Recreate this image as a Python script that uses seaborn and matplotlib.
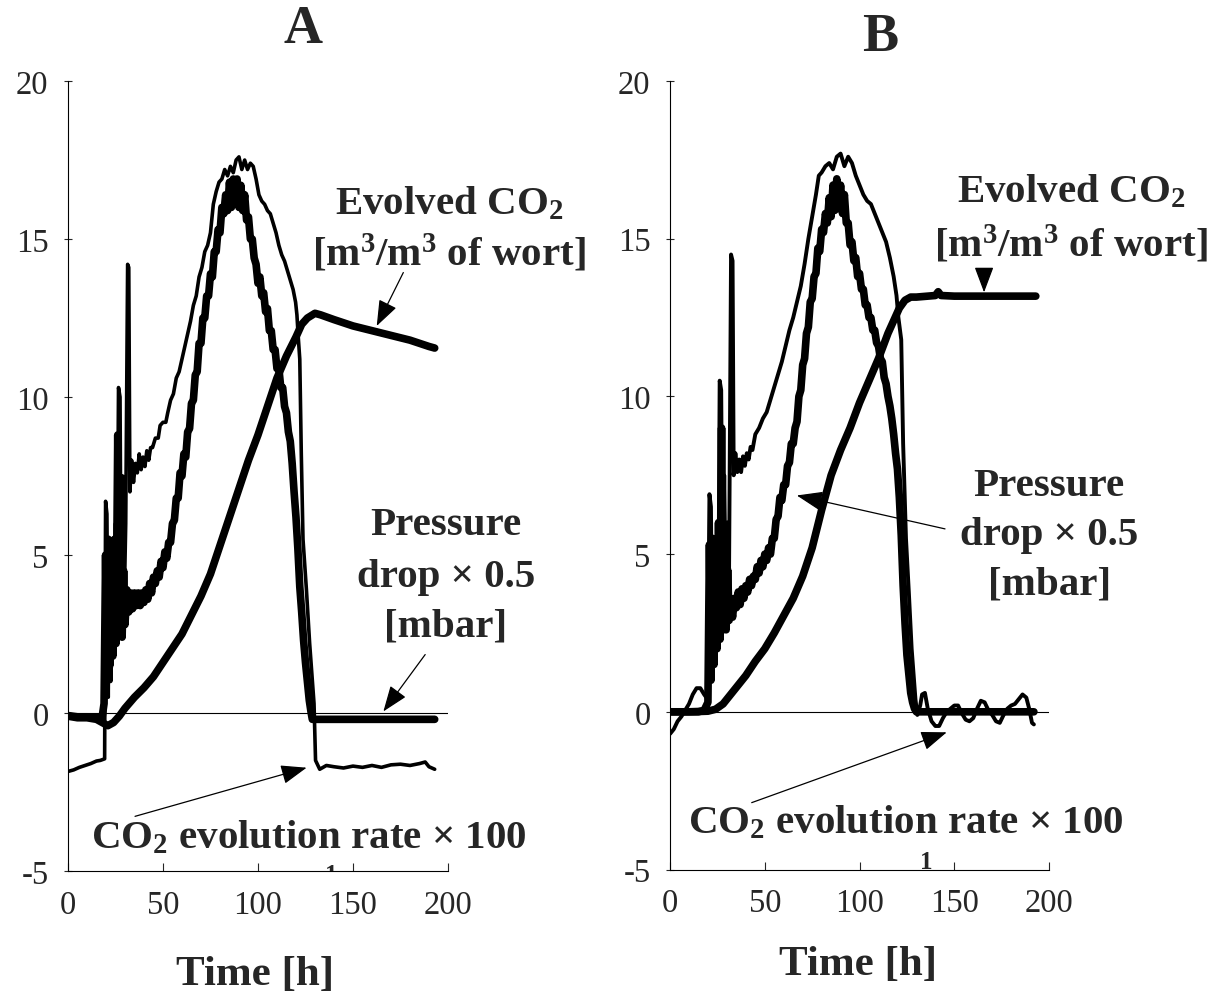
import matplotlib
matplotlib.use("Agg")
import matplotlib.pyplot as plt
import pandas as pd
import seaborn as sns

# ---- data: (time [h], value) ----
a_rate = [
    (0, -1.85), (3, -1.8), (6, -1.72), (9, -1.66), (12, -1.6), (15, -1.52), (17, -1.5), (19.3, -1.45),
    (19.8, 6.7), (20.5, 6.3), (21.2, 0.5), (21.8, 5.2), (22.5, 1.0), (23.2, 4.0), (24.2, 2.0), (25, 6.0),
    (25.8, 3.0), (26.6, 10.3), (27.4, 10.0), (28, 3.5), (28.8, 7.5), (29.6, 3.5), (30.4, 6.0), (31.4, 14.2),
    (32, 14.1), (32.6, 7.0), (33.5, 8.0), (34.5, 7.3), (35.5, 7.9), (36.5, 7.6), (37.5, 8.2), (38.5, 7.7),
    (39.5, 8.1), (40.5, 7.8), (41.5, 8.3), (42.5, 8.0), (43.5, 8.4), (44.5, 8.4), (46, 8.7), (47.5, 8.7),
    (48.5, 9.1), (50, 9.2), (51.5, 9.2), (52.5, 9.5), (54, 9.9), (55.5, 10.1), (57, 10.6), (58.5, 10.8),
    (60, 11.2), (61.5, 11.6), (63, 12.0), (64.5, 12.4), (66, 12.9), (67.5, 13.2), (69, 13.8), (70.5, 14.1),
    (72, 14.6), (73.5, 14.8), (75, 15.2), (76.5, 16.1), (78, 16.5), (79.5, 16.8), (81, 16.9), (82.5, 17.2),
    (84, 17.0), (85.5, 17.3), (87, 17.1), (88.5, 17.5), (90, 17.6), (91.5, 17.2), (93, 17.5), (94.5, 17.2),
    (96, 17.4), (97.5, 17.3), (99, 16.9), (100.5, 16.4), (102, 16.2), (103.5, 16.1), (105, 15.9), (106.5, 15.8),
    (108, 15.5), (109.5, 15.2), (111, 14.8), (112.5, 14.5), (114, 14.3), (115.5, 14.0), (117, 13.7),
    (118.5, 13.4), (119.8, 13.0), (120.5, 12.6), (121.2, 11.9), (122, 11.2), (122.8, 8.2), (123.7, 5.5),
    (125.5, 3.9), (127.2, 2.2), (129.5, 0.3), (130.3, -1.5), (132.5, -1.78), (136, -1.66), (140, -1.7),
    (145, -1.74), (150, -1.68), (155, -1.72), (160, -1.66), (165, -1.72), (170, -1.64), (175, -1.62),
    (180, -1.66), (185, -1.6), (188, -1.55), (190, -1.7), (193, -1.78),
]
a_pressure = [
    (0, -0.08), (5, -0.12), (10, -0.12), (15, -0.15), (18, -0.12), (19, 0.3), (19.8, 5.0), (20.5, 1.0),
    (21.2, 5.5), (22, 1.5), (22.8, 4.8), (23.6, 1.8), (24.5, 5.5), (25.3, 2.2), (26.2, 8.8), (27, 2.5),
    (27.8, 5.0), (28.5, 2.4), (29.3, 4.5), (30, 2.8), (31, 3.9), (32, 3.2), (33, 3.8), (34, 3.3), (35, 3.8),
    (36, 3.4), (37, 3.8), (38, 3.4), (39, 3.8), (40, 3.5), (41, 3.9), (42, 3.6), (43, 4.1), (44, 3.8),
    (45, 4.3), (46, 4.1), (47, 4.5), (48, 4.3), (49, 4.8), (50, 4.6), (51, 5.1), (52, 4.9), (53, 5.4),
    (54, 5.4), (55, 6.0), (56, 6.1), (57, 6.8), (58, 6.8), (59, 7.6), (60, 7.5), (61, 8.2), (62, 8.1),
    (63, 8.9), (64, 9.0), (65, 9.8), (66, 9.9), (67, 10.7), (68, 10.8), (69, 11.7), (70, 11.7), (71, 12.5),
    (72, 12.5), (73, 13.2), (74, 13.2), (75, 13.9), (76, 13.8), (77, 14.6), (78, 14.6), (79, 15.3),
    (80, 15.2), (81, 16.0), (82, 15.8), (83, 16.4), (84, 15.9), (85, 16.8), (86, 16.0), (87, 16.9),
    (88, 16.1), (89, 16.9), (90, 16.0), (91, 16.7), (92, 15.9), (93, 16.4), (94, 15.6), (95, 15.7),
    (96, 15.0), (97, 15.0), (98, 14.4), (99, 14.2), (100, 13.6), (101, 13.8), (102, 13.2), (103, 13.3),
    (104, 12.7), (105, 12.8), (106, 12.1), (107, 12.1), (108, 11.5), (109, 11.5), (110, 10.9), (111, 10.9),
    (112, 10.3), (113, 10.3), (114, 9.7), (115, 9.5), (116, 8.9), (117, 8.6), (118, 7.9), (119, 7.0),
    (120, 6.2), (121, 5.2), (122, 4.0), (123, 3.2), (124, 2.3), (125, 1.6), (126, 1.0), (127, 0.4),
    (128, 0.0), (128.6, -0.2), (140, -0.2), (160, -0.2), (180, -0.2), (193, -0.2),
]
a_evolved = [
    (0, -0.1), (5, -0.15), (10, -0.15), (15, -0.2), (18, -0.3), (21, -0.4), (24, -0.3), (27, -0.1),
    (30, 0.15), (35, 0.5), (40, 0.8), (45, 1.15), (50, 1.6), (55, 2.05), (60, 2.5), (65, 3.1), (70, 3.7),
    (75, 4.4), (80, 5.3), (85, 6.2), (90, 7.1), (95, 8.0), (100, 8.8), (105, 9.7), (110, 10.6), (115, 11.3),
    (120, 11.9), (123, 12.3), (126, 12.5), (130, 12.65), (133, 12.6), (140, 12.45), (150, 12.25),
    (160, 12.1), (170, 11.95), (180, 11.8), (190, 11.6), (193, 11.55),
]

b_rate = [
    (0, -0.7), (2, -0.55), (4, -0.3), (6, -0.15), (8, 0.05), (10, 0.25), (12, 0.55), (14, 0.75), (16, 0.75),
    (18, 0.55), (19.8, 0.4), (20.8, 6.9), (21.6, 6.5), (22.3, 1.0), (23, 5.5), (23.8, 1.5), (24.6, 4.0),
    (25.4, 2.0), (26.2, 10.5), (27, 10.2), (27.8, 3.5), (28.6, 7.5), (29.4, 3.5), (30.2, 6.0), (31, 3.0),
    (32.2, 14.5), (33, 14.3), (33.6, 7.5), (34.5, 8.2), (35.5, 7.6), (36.5, 8.0), (37.5, 7.6), (38.5, 8.1),
    (39.5, 7.8), (40.5, 8.2), (41.5, 8.0), (42.5, 8.4), (43.5, 8.3), (45, 8.8), (47, 9.0), (49, 9.3),
    (51, 9.5), (53, 9.9), (55, 10.3), (57, 10.7), (59, 11.1), (61, 11.6), (63, 12.1), (65, 12.5), (67, 13.0),
    (69, 13.5), (71, 14.2), (73, 15.0), (75, 15.7), (77, 16.4), (78.5, 17.0), (80, 17.1), (82, 17.3),
    (84, 17.4), (86, 17.2), (88, 17.6), (90, 17.7), (92, 17.3), (94, 17.6), (96, 17.4), (98, 17.0),
    (100, 16.7), (102, 16.4), (104, 16.2), (106, 16.1), (108, 15.8), (110, 15.5), (112, 15.2), (114, 14.9),
    (116, 14.4), (118, 13.8), (119.5, 13.2), (120.5, 12.5), (122, 11.8), (123, 8.5), (124.5, 5.5),
    (126, 3.8), (127.5, 2.0), (129.5, 0.4), (130.5, -0.1), (132, 0.2), (133, 0.55), (134.5, 0.6),
    (136, 0.1), (138, -0.3), (140, -0.45), (142, -0.45), (144, -0.2), (146, 0.0), (148, 0.1), (150, 0.2),
    (152, 0.2), (154, -0.05), (156, -0.25), (158, -0.3), (160, -0.2), (162, 0.1), (164, 0.35), (166, 0.3),
    (168, 0.05), (170, -0.1), (172, -0.3), (174, -0.35), (176, -0.1), (178, 0.1), (180, 0.2), (182, 0.25),
    (184, 0.4), (186, 0.55), (188, 0.45), (189.5, 0.1), (191, -0.35), (192, -0.4),
]
b_pressure = [
    (0, 0.0), (5, 0.0), (10, 0.0), (15, 0.0), (18, 0.05), (20, 0.3), (20.8, 5.3), (21.6, 1.0), (22.4, 5.5),
    (23.2, 1.5), (24, 5.0), (24.8, 2.0), (25.6, 6.0), (26.4, 2.3), (27.2, 9.0), (28, 2.6), (28.8, 5.0),
    (29.6, 2.6), (30.4, 4.5), (31.2, 2.9), (32, 3.4), (33, 3.0), (34, 3.6), (35, 3.3), (36, 3.8), (37, 3.4),
    (38, 3.9), (39, 3.6), (40, 4.0), (41, 3.8), (42, 4.2), (43, 4.0), (44, 4.3), (45, 4.2), (46, 4.6),
    (47, 4.4), (48, 4.8), (49, 4.6), (50, 5.0), (51, 4.8), (52, 5.2), (53, 5.0), (54, 5.5), (55, 5.5),
    (56, 6.1), (57, 6.2), (58, 6.8), (59, 6.7), (60, 7.2), (61, 7.2), (62, 7.8), (63, 7.9), (64, 8.5),
    (65, 8.5), (66, 9.0), (67, 9.2), (68, 10.0), (69, 10.2), (70, 11.0), (71, 11.2), (72, 12.0), (73, 12.2),
    (74, 13.0), (75, 13.1), (76, 13.8), (77, 13.9), (78, 14.7), (79, 14.6), (80, 15.3), (81, 15.2),
    (82, 15.8), (83, 15.5), (84, 16.3), (85, 15.7), (86, 16.7), (87, 15.9), (88, 16.9), (89, 16.0),
    (90, 16.7), (91, 15.8), (92, 16.4), (93, 15.5), (94, 15.5), (95, 14.8), (96, 14.9), (97, 14.3),
    (98, 14.4), (99, 13.8), (100, 13.9), (101, 13.4), (102, 13.4), (103, 12.9), (104, 12.9), (105, 12.5),
    (106, 12.5), (107, 12.1), (108, 12.1), (109, 11.7), (110, 11.6), (111, 11.2), (112, 11.1), (113, 10.6),
    (114, 10.4), (115, 10.0), (116, 9.7), (117, 9.3), (118, 8.8), (119, 8.2), (120, 7.7), (121, 6.8),
    (122, 5.6), (123, 4.0), (124, 2.8), (125, 1.8), (126, 1.2), (127, 0.6), (128, 0.3), (129, 0.1),
    (130, 0.0), (140, 0.0), (160, 0.0), (180, 0.0), (192, 0.0),
]
b_evolved = [
    (0, 0.0), (10, 0.0), (20, 0.02), (24, 0.08), (28, 0.25), (32, 0.55), (36, 0.85), (40, 1.15), (45, 1.6),
    (50, 2.0), (55, 2.5), (60, 3.05), (65, 3.6), (70, 4.3), (75, 5.2), (80, 6.4), (85, 7.5), (90, 8.3),
    (95, 9.0), (100, 9.8), (105, 10.5), (110, 11.2), (115, 12.0), (118, 12.4), (121, 12.8), (124, 13.05),
    (127, 13.15), (130, 13.15), (140, 13.2), (141.5, 13.32), (143, 13.2), (150, 13.18), (170, 13.18),
    (193, 13.18),
]

panel_titles = ["A", "B"]
x_ticks = [0, 50, 100, 150, 200]
y_ticks = [-5, 0, 5, 10, 15, 20]
evolved_label = [r"Evolved CO$_2$", r"[m$^3$/m$^3$ of wort]"]
pressure_label = ["Pressure", "drop × 0.5", "[mbar]"]
rate_label = "CO$_2$ evolution rate × 100"
time_label = "Time [h]"

sns.set_style("ticks")
plt.rcParams["font.family"] = ["Liberation Serif", "DejaVu Serif"]
plt.rcParams["axes.unicode_minus"] = False
plt.rcParams["mathtext.fontset"] = "custom"
for key in ("rm", "it", "bf"):
    plt.rcParams["mathtext." + key] = "Liberation Serif:bold"

LABEL_FS = 29.5
ARROW = dict(arrowstyle="-|>,head_length=0.8,head_width=0.3", color="black",
             lw=0.9, shrinkA=0, shrinkB=0, mutation_scale=20)


def draw_series(ax, rows, lw, z):
    df = pd.DataFrame(rows, columns=["t", "v"])
    sns.lineplot(data=df, x="t", y="v", ax=ax, color="black", linewidth=lw,
                 estimator=None, sort=False, zorder=z, solid_joinstyle="round")


def style_axes(ax):
    ax.set_xlim(0, 200)
    ax.set_ylim(-5, 20)
    ax.set_xticks(x_ticks)
    ax.set_yticks(y_ticks)
    ax.set_xlabel("")
    ax.set_ylabel("")
    for side in ("top", "right"):
        ax.spines[side].set_visible(False)
    for side in ("left", "bottom"):
        ax.spines[side].set_linewidth(0.8)
        ax.spines[side].set_color("black")
    ax.tick_params(axis="x", direction="in", length=6, width=0.8, labelsize=23.5, pad=13)
    ax.tick_params(axis="y", direction="inout", length=6, width=0.8, labelsize=23.5, pad=11)
    ax.axhline(0, color="black", lw=0.8, zorder=1)
    ax.set_facecolor("white")


def stray_mark(ax, t, top):
    # top of a bold "1" poking out above the bottom axis
    ax.text(t, top, "1", fontsize=18, fontweight="bold", ha="center", va="top", clip_on=True)


fig = plt.figure(figsize=(12.18, 10.03), dpi=100)
ax_a = fig.add_axes([0.0558, 0.1306, 0.3120, 0.7876])
ax_b = fig.add_axes([0.5501, 0.1321, 0.3112, 0.7861])

# panel A
draw_series(ax_a, a_pressure, 5.5, 2)
draw_series(ax_a, a_evolved, 5.5, 3)
draw_series(ax_a, a_rate, 2.6, 4)
style_axes(ax_a)

ax_a.text(200.5, 15.81, evolved_label[0], fontsize=LABEL_FS, fontweight="bold", ha="center", va="baseline")
ax_a.text(200.5, 14.2, evolved_label[1], fontsize=LABEL_FS, fontweight="bold", ha="center", va="baseline")
for txt, yv in zip(pressure_label, [5.65, 4.02, 2.44]):
    ax_a.text(198.9, yv, txt, fontsize=LABEL_FS, fontweight="bold", ha="center", va="baseline")
ax_a.text(12.1, -4.26, rate_label, fontsize=LABEL_FS, fontweight="bold", ha="left", va="baseline")
stray_mark(ax_a, 138.4, -4.76)

ax_a.annotate("", xy=(162.5, 12.25), xytext=(176.5, 13.94), arrowprops=ARROW)
ax_a.annotate("", xy=(166, 0.05), xytext=(188, 1.85), arrowprops=ARROW)
ax_a.annotate("", xy=(125.6, -1.73), xytext=(35.3, -3.27), arrowprops=ARROW)

# panel B
draw_series(ax_b, b_pressure, 5.5, 2)
draw_series(ax_b, b_evolved, 5.5, 3)
draw_series(ax_b, b_rate, 2.8, 4)
style_axes(ax_b)

ax_b.text(211.6, 16.2, evolved_label[0], fontsize=LABEL_FS, fontweight="bold", ha="center", va="baseline")
ax_b.text(211.6, 14.47, evolved_label[1], fontsize=LABEL_FS, fontweight="bold", ha="center", va="baseline")
for txt, yv in zip(pressure_label, [6.87, 5.32, 3.74]):
    ax_b.text(200.0, yv, txt, fontsize=LABEL_FS, fontweight="bold", ha="center", va="baseline")
ax_b.text(9.5, -3.83, rate_label, fontsize=LABEL_FS, fontweight="bold", ha="left", va="baseline")
stray_mark(ax_b, 135.0, -4.39)

ax_b.annotate("", xy=(165.7, 13.3), xytext=(165.7, 14.05), arrowprops=ARROW)
ax_b.annotate("", xy=(66.9, 6.86), xytext=(145.1, 5.8), arrowprops=ARROW)
ax_b.annotate("", xy=(146, -0.65), xytext=(43.1, -2.88), arrowprops=ARROW)

# panel letters and x titles
fig.text(0.2484, 0.9696, panel_titles[0], fontsize=39, fontweight="bold", ha="center", va="center")
fig.text(0.7225, 0.962, panel_titles[1], fontsize=39, fontweight="bold", ha="center", va="center")
fig.text(0.2094, 0.028, time_label, fontsize=31, fontweight="bold", ha="center", va="center")
fig.text(0.7044, 0.038, time_label, fontsize=31, fontweight="bold", ha="center", va="center")

fig.savefig("out.png", dpi=100, facecolor="white")
